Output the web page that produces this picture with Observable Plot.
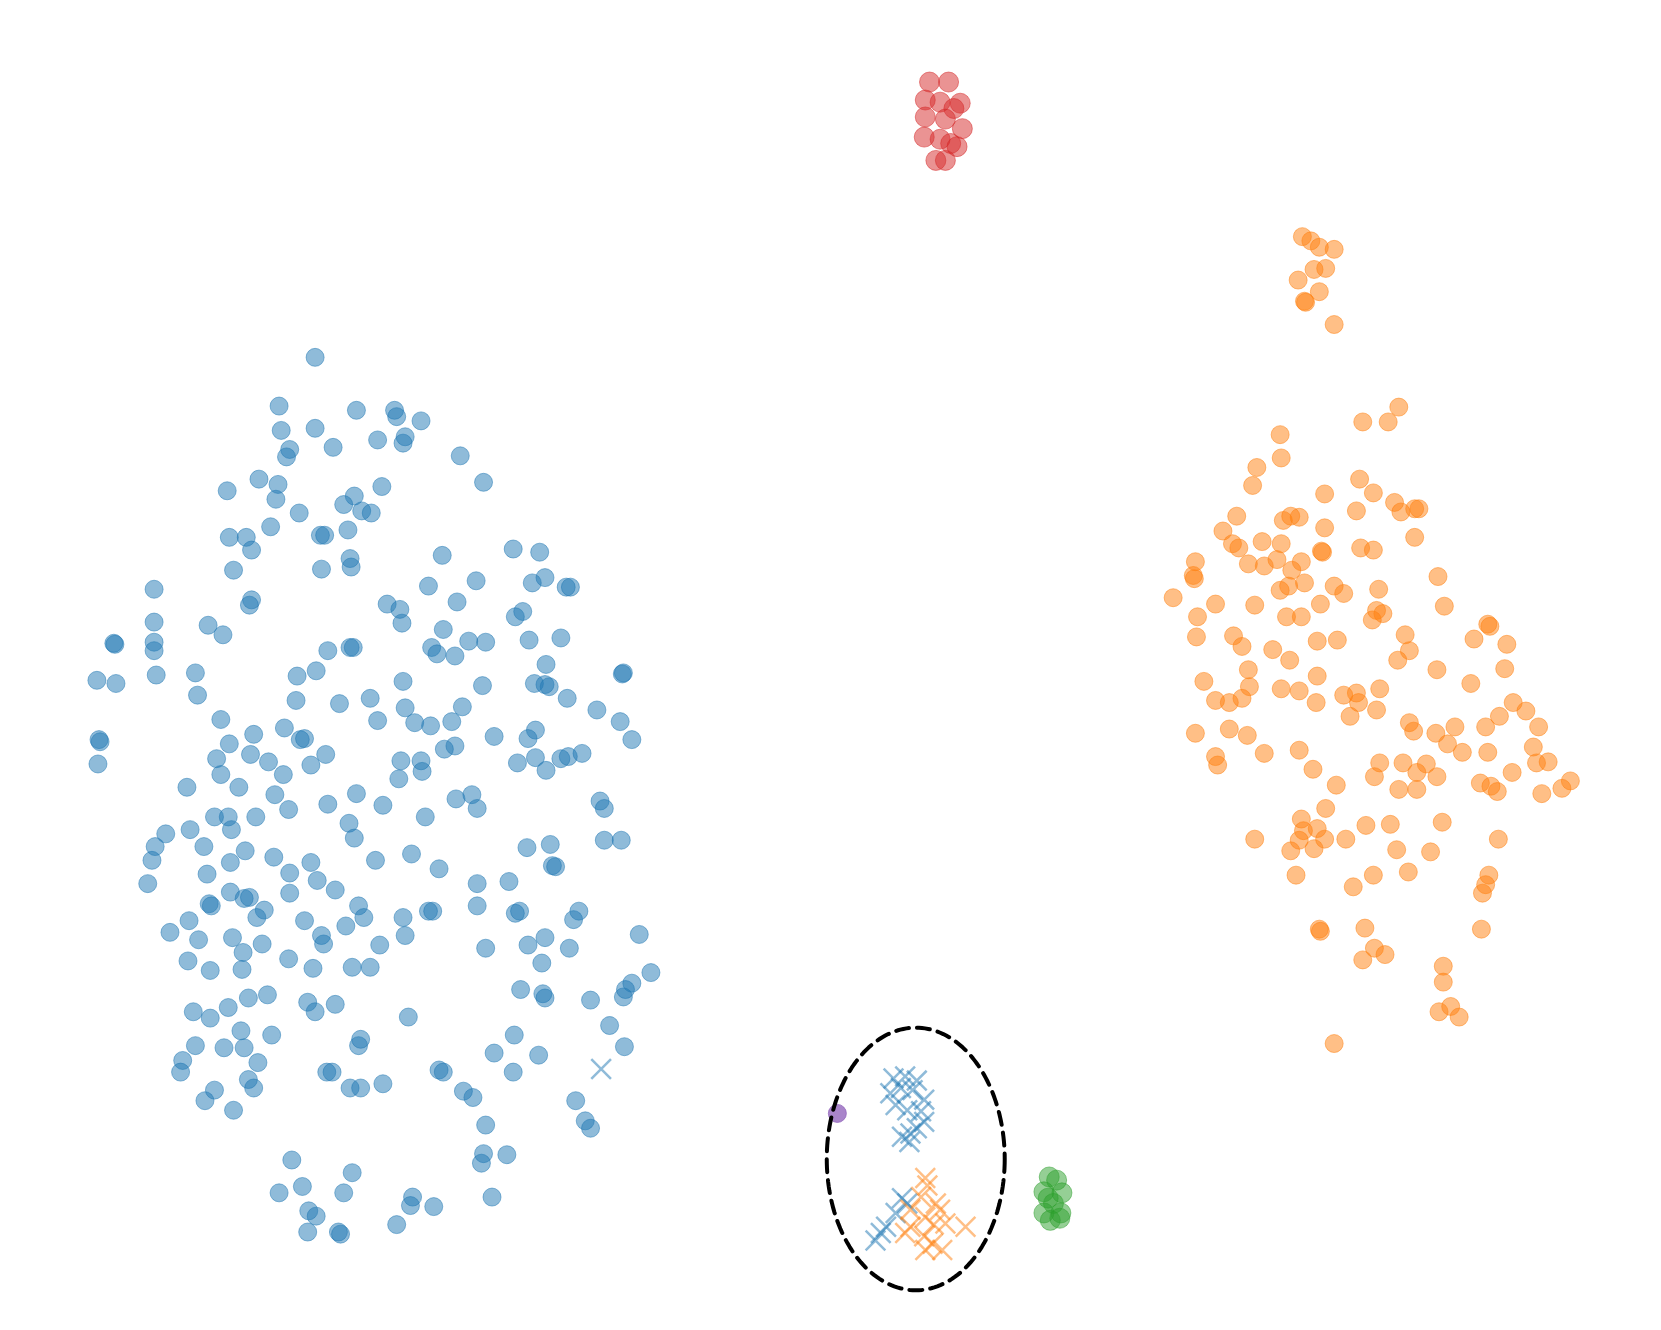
<!DOCTYPE html>
<html>
<head>
<meta charset="utf-8">
<script src="https://cdn.jsdelivr.net/npm/d3@7"></script>
<script src="https://cdn.jsdelivr.net/npm/@observablehq/plot@0.6"></script>
<style>
  html, body { margin: 0; padding: 0; background: #fff; }
  #chart svg { display: block; }
</style>
</head>
<body>
<div id="chart"></div>
<script>
// Embedding coordinates (x to the right, y downwards)
const blueCircles = [
  [297,337],[263,383],[336,387],[372,387],[374,393],[397,397],
  [265,406],[297,404],[356,415],[382,412],[380,418],[273,424],[270,431],[314,422],[434,430],
  [244,452],[214,463],[262,457],[260,471],[360,459],[456,455],[334,468],[324,476],[341,482],[350,484],
  [282,484],[255,497],[216,507],[232,507],[237,519],[302,505],[306,505],[328,500],[220,538],[303,537],[330,527],[331,535],
  [417,524],[484,518],[509,521],[449,548],[404,553],[514,545],[502,550],[534,554],[538,554],
  [145,556],[365,570],[377,575],[379,588],[237,566],[235,571],[431,568],[493,577],[486,582],[145,587],[196,590],
  [210,599],[107,607],[108,608],[145,606],[145,614],[418,594],[407,611],[412,617],[330,611],[333,611],[309,614],
  [442,605],[458,606],[499,604],[529,602],[429,619],
  [147,637],[184,635],[91,642],[109,645],[280,638],[298,633],[380,643],[515,627],[504,645],[514,646],[518,648],
  [455,647],[587,636],[588,635],
  [186,656],[279,661],[320,664],[349,659],[382,668],[391,682],[436,667],[535,659],[563,670],[585,681],
  [208,679],[239,693],[268,687],[283,698],[287,697],[356,680],[406,685],[426,681],[466,695],[505,689],[498,697],[596,698],
  [93,698],[94,700],[92,721],
  [216,702],[204,716],[236,712],[253,719],[293,722],[307,712],[267,731],[208,731],[378,718],[397,718],[419,707],
  [429,704],[398,728],[376,735],[488,720],[505,715],[529,716],[536,714],[549,711],[515,727],
  [176,743],[225,743],[259,750],[272,764],[309,759],[336,749],[361,760],[430,754],[445,750],[450,763],[401,771],[566,756],[570,763],
  [202,771],[215,771],[241,771],[329,777],[156,787],[179,783],[218,783],[146,799],[192,799],[231,803],[143,812],
  [217,814],[258,809],[334,791],[570,793],[586,793],[497,800],[519,797],[521,817],[524,818],[388,806],[354,812],
  [139,834],[195,825],[293,814],[273,824],[299,831],[316,840],[414,820],[450,834],[480,832],
  [217,842],[230,848],[235,847],[197,853],[199,855],[273,843],[249,859],[242,866],[338,855],[343,866],[404,860],
  [408,860],[450,855],[490,860],[486,862],[546,860],[541,868],
  [178,869],[160,880],[187,887],[219,885],[247,891],[287,869],[303,883],[305,891],[326,874],[380,866],[382,883],
  [358,892],[498,892],[514,885],[537,895],[603,882],[458,895],
  [229,899],[177,907],[198,916],[228,915],[272,905],[295,914],[332,913],[349,913],[511,909],[614,918],[596,928],
  [182,955],[215,951],[234,942],[252,939],[290,946],[297,955],[316,948],[385,960],[491,934],[512,938],[514,942],
  [557,944],[588,941],[590,934],
  [198,961],[227,973],[256,977],[211,989],[230,989],[184,987],[338,987],[340,981],[485,977],[466,994],[508,996],[575,968],[589,988],
  [172,1001],[170,1012],[243,1003],[308,1012],[313,1012],[361,1023],[330,1027],[340,1027],[234,1019],[239,1027],
  [202,1029],[193,1039],[220,1048],[414,1010],[418,1012],[437,1030],[446,1036],[484,1012],[543,1039],[458,1062],[552,1058],[557,1065],
  [275,1095],[332,1107],[456,1089],[478,1090],[454,1098],[263,1126],[285,1120],[324,1126],[389,1130],[387,1138],
  [409,1139],[464,1130],[291,1143],[298,1148],[319,1163],[321,1165],[290,1163],[374,1156]
];

const orangeCircles = [
  [1229,223],[1237,227],[1245,233],[1259,235],[1240,254],[1251,253],[1225,264],[1245,275],[1231,284],[1232,285],[1259,306],
  [1320,384],[1286,398],[1310,398],[1208,410],[1209,432],[1186,441],[1182,458],[1250,466],[1283,452],[1296,465],
  [1316,474],[1322,483],[1335,480],[1339,480],[1280,482],[1167,487],[1226,488],[1211,491],[1218,487],[1250,498],
  [1335,507],[1154,501],[1163,513],[1169,517],[1191,511],[1209,513],[1247,520],[1248,521],[1284,517],[1296,519],
  [1128,530],[1126,543],[1127,546],[1178,532],[1193,534],[1205,528],[1228,530],[1219,538],[1231,550],[1208,557],
  [1216,553],[1259,553],[1268,560],[1301,556],[1357,544],[1107,564],[1147,570],[1184,571],[1246,570],[1299,576],
  [1305,579],[1363,572],[1130,582],[1214,582],[1228,582],[1295,585],[1404,589],[1406,591],[1391,603],[1422,608],
  [1129,601],[1164,600],[1172,610],[1201,613],[1243,605],[1262,604],[1326,599],[1330,614],[1319,623],[1217,623],
  [1178,632],[1136,643],[1179,648],[1243,638],[1226,652],[1209,650],[1356,632],[1420,631],[1388,645],[1160,663],
  [1147,661],[1172,659],[1242,663],[1268,656],[1280,654],[1282,663],[1302,650],[1299,670],[1334,690],[1330,682],
  [1274,676],[1402,686],[1415,676],[1428,663],[1440,671],[1452,686],[1128,692],[1160,688],[1177,694],[1355,692],
  [1373,686],[1380,710],[1366,702],[1447,705],[1450,720],[1404,710],[1461,719],[1427,729],[1147,714],[1149,722],
  [1193,711],[1226,708],[1239,726],[1302,720],[1324,720],[1346,721],[1297,733],[1320,745],[1337,745],[1356,733],
  [1337,729],[1397,739],[1407,742],[1413,747],[1455,749],[1474,744],[1482,737],[1261,741],[1251,763],[1228,773],
  [1230,784],[1243,782],[1289,779],[1312,778],[1361,776],[1184,792],[1218,803],[1226,793],[1240,801],[1250,792],
  [1270,792],[1414,792],[1350,804],[1318,802],[1223,826],[1277,837],[1296,826],[1329,823],[1405,826],[1399,843],
  [1402,835],[1245,877],[1246,879],[1288,876],[1297,895],[1307,901],[1286,906],[1398,877],[1362,912],[1362,927],
  [1358,955],[1369,950],[1377,960],[1259,985]
];

const redCircles = [
  [877,77],[895,77],[873,94],[887,96],[906,97],[900,102],[873,110],[892,112],[908,121],
  [872,129],[887,131],[897,135],[903,138],[883,151],[892,151]
];

const greenCircles = [
  [990,1111],[997,1114],[985,1125],[1002,1126],[994,1136],[989,1131],[985,1145],[1001,1145],[991,1152],[1000,1150]
];

const purpleCircles = [[790,1051]];

const blueCrosses = [
  [567,1009],
  [843,1018],[854,1016],[865,1020],[840,1032],[850,1027],[861,1029],[872,1038],[845,1043],[856,1048],[869,1049],
  [872,1059],[865,1065],[851,1073],[858,1078],[859,1070],
  [851,1131],[856,1136],[845,1145],[836,1158],[826,1171],[831,1164]
];

const orangeCrosses = [
  [873,1112],[875,1119],[869,1130],[883,1136],[859,1142],[887,1142],[873,1149],[859,1158],[881,1156],[892,1155],
  [854,1164],[872,1167],[880,1174],[889,1180],[873,1180],[911,1158]
];

// Dashed ellipse annotation: centre and radii
const ellipseCenter = [864, 1094];
const ellipseRadii = [84, 124];

const ellipsePts = d3.range(0, 181).map(i => {
  const t = (i / 180) * 2 * Math.PI;
  return [ellipseCenter[0] + ellipseRadii[0] * Math.cos(t), ellipseCenter[1] + ellipseRadii[1] * Math.sin(t)];
});

const circleOpts = (color, op = 0.5, r = 9) => ({
  x: d => d[0], y: d => d[1], r,
  fill: color, fillOpacity: op, stroke: color, strokeOpacity: op, strokeWidth: 1
});
const crossOpts = (color) => ({
  x: d => d[0], y: d => d[1], r: 9, symbol: "times",
  stroke: color, strokeOpacity: 0.5, strokeWidth: 2.5
});

const chart = Plot.plot({
  width: 1661,
  height: 1330,
  margin: 0,
  x: { domain: [0, 1568], axis: null },
  y: { domain: [1256, 0], axis: null },
  marks: [
    Plot.dot(blueCircles, circleOpts("#1f77b4")),
    Plot.dot(orangeCircles, circleOpts("#ff7f0e")),
    Plot.dot(redCircles, circleOpts("#d62728", 0.5, 10)),
    Plot.dot(greenCircles, circleOpts("#2ca02c", 0.5, 10)),
    Plot.dot(purpleCircles, circleOpts("#9467bd", 0.8)),
    Plot.dot(blueCrosses, crossOpts("#1f77b4")),
    Plot.dot(orangeCrosses, crossOpts("#ff7f0e")),
    Plot.line(ellipsePts, { x: d => d[0], y: d => d[1], stroke: "black", strokeWidth: 4, strokeDasharray: "13,8" })
  ]
});
document.getElementById("chart").appendChild(chart);
</script>
</body>
</html>
